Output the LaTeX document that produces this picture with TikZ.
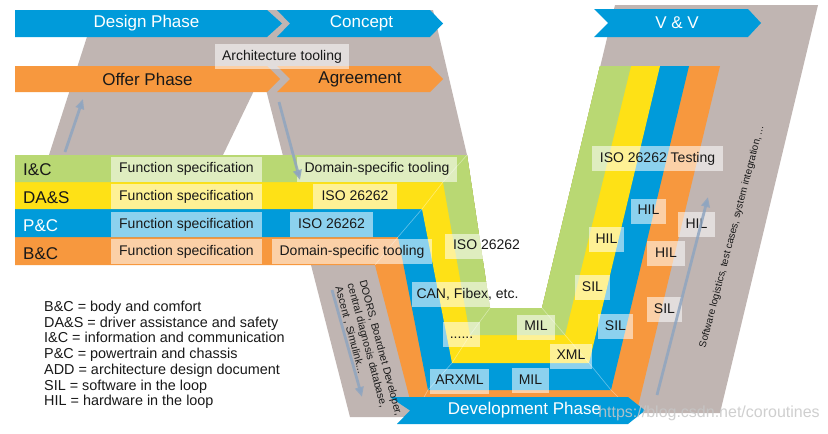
\documentclass[tikz,border=0pt]{standalone}
\usepackage{fontspec}
\setmainfont{Liberation Sans}
\usetikzlibrary{arrows.meta}
\definecolor{cblue}{RGB}{0,155,218}
\definecolor{corange}{RGB}{247,152,62}
\definecolor{cgreen}{RGB}{185,216,115}
\definecolor{cyellow}{RGB}{254,225,22}
\definecolor{cgray}{RGB}{192,181,178}
\definecolor{arrc}{RGB}{143,165,192}
\definecolor{txt}{RGB}{25,25,25}
\begin{document}
\begin{tikzpicture}[x=1pt,y=-1pt,
  lbl/.style={fill=white, fill opacity=0.55, text opacity=1, inner sep=0pt,
    minimum height=25pt, text=txt, text height=10.2pt, text depth=2.9pt,
    font=\fontsize{14}{16}\selectfont},
  bantext/.style={font=\fontsize{17}{20}\selectfont, inner sep=0pt},
  rowlbl/.style={anchor=base west, font=\fontsize{17}{20}\selectfont, inner sep=0pt, text=txt},
  legend/.style={anchor=base west, font=\fontsize{14.4}{16}\selectfont, inner sep=0pt, text=txt},
  fold/.style={draw=white, draw opacity=0.4, line width=0.6pt},
  flowarr/.style={draw=arrc, line width=2.8pt, draw opacity=0.85,
    -{Triangle[width=8.5pt,length=10pt]}}
]
\useasboundingbox (0,0) rectangle (828,434);
\fill[white] (0,0) rectangle (828,434);

% grey background shapes
\fill[cgray] (95.6,10) -- (433,10) -- (467,155) -- (490,308) -- (500,417) -- (350,417)
  -- (262,74) -- (223,155) -- (49,155) -- cycle;
\fill[cgray] (615,5) -- (818,5) -- (720,413) -- (517,413) -- cycle;

% flow arrow on the left arm (under the rows)
\coordinate (a1s) at (65,152);
\coordinate (a1e) at (83,99);
\draw[flowarr] (a1s) -- (a1e);

% colour bands
\fill[corange] (15,265) -- (375,265) -- (414,415) -- (636,415) -- (720,66) -- (600,66)
  -- (542,308) -- (490,308) -- (467,155) -- (15,155) -- cycle;
\fill[cblue] (15,237) -- (398,237) -- (428,390) -- (611,390) -- (689,66) -- (600,66)
  -- (542,308) -- (490,308) -- (467,155) -- (15,155) -- cycle;
\fill[cyellow] (15,209) -- (422,209) -- (452,363) -- (589,363) -- (660,66) -- (600,66)
  -- (542,308) -- (490,308) -- (467,155) -- (15,155) -- cycle;
\fill[cgreen] (15,182) -- (443,182) -- (470,335) -- (565,335) -- (631,66) -- (600,66)
  -- (542,308) -- (490,308) -- (467,155) -- (15,155) -- cycle;

\draw[fold] (467,155) -- (443,182) -- (422,209) -- (398,237) -- (375,265);
\draw[fold] (490,308) -- (470,335) -- (452,363) -- (428,390) -- (414,415);
\draw[fold] (542,308) -- (565,335) -- (589,363) -- (611,390) -- (636,415);

% banners
\fill[cblue] (15,10) -- (267,10) -- (282,23.5) -- (267,37) -- (15,37) -- cycle;
\fill[cblue] (277,10) -- (430,10) -- (443,23.5) -- (430,37) -- (277,37) -- (290,23.5) -- cycle;
\fill[corange] (15,66) -- (267,66) -- (280,79) -- (267,92) -- (15,92) -- cycle;
\fill[corange] (277,66) -- (430,66) -- (443,79) -- (430,92) -- (277,92) -- (290,79) -- cycle;
\fill[cblue] (594,9) -- (748,9) -- (761,23) -- (748,37) -- (594,37) -- (608,23) -- cycle;
\fill[cblue] (390,397) -- (628,397) -- (645,410.5) -- (628,424) -- (397,424) -- (410,410.5) -- cycle;

\node[bantext, text=white] (design) at (146.5,23.5) {Design Phase};
\node[bantext, text=white] (concept) at (361.5,23.5) {Concept};
\node[bantext, text=txt] (offer) at (147.5,79) {Offer Phase};
\node[bantext, text=txt] (agree) at (360,79) {Agreement};
\node[bantext, text=white] (vv) at (677,23) {V \& V};
\node[bantext, text=white] (dev) at (524.5,410.5) {Development Phase};

% row labels
\node[rowlbl] (ic) at (23,175) {I\&C};
\node[rowlbl] (das) at (23,203) {DA\&S};
\node[rowlbl, text=white] (pc) at (23,231) {P\&C};
\node[rowlbl] (bc) at (23,259) {B\&C};

% label boxes
\node[lbl, minimum width=134pt] (arch) at (282,56.5) {Architecture tooling};
\node[lbl, minimum width=151pt] (fs1) at (186.5,169) {Function specification};
\node[lbl, minimum width=151pt] (fs2) at (186.5,196.5) {Function specification};
\node[lbl, minimum width=151pt] (fs3) at (186.5,224.5) {Function specification};
\node[lbl, minimum width=151pt] (fs4) at (186.5,251.5) {Function specification};
\node[lbl, minimum width=160pt] (dst1) at (377,169) {Domain-specific tooling};
\node[lbl, minimum width=84pt] (iso1) at (355,196.5) {ISO 26262};
\node[lbl, minimum width=83pt] (iso2) at (331.5,224.5) {ISO 26262};
\node[lbl, minimum width=160pt] (dst2) at (352,251.5) {Domain-specific tooling};
\node[lbl, minimum width=83pt] (iso3) at (486.5,246) {ISO 26262};
\node[lbl, minimum width=111pt] (can) at (467.5,294.5) {CAN, Fibex, etc.};
\node[lbl, minimum width=37pt] (dots) at (461.5,334.5) {......};
\node[lbl, minimum width=38pt] (mil1) at (536,327) {MIL};
\node[lbl, minimum width=42pt] (xml) at (571,356) {XML};
\node[lbl, minimum width=59pt] (arxml) at (459.5,381) {ARXML};
\node[lbl, minimum width=37pt] (mil2) at (530.5,380.5) {MIL};
\node[lbl, minimum width=131pt] (isot) at (657.5,158.5) {ISO 26262 Testing};
\node[lbl, minimum width=35pt] (hil1) at (648.5,211) {HIL};
\node[lbl, minimum width=37pt] (hil2) at (696.5,224.5) {HIL};
\node[lbl, minimum width=35pt] (hil3) at (606.5,239.5) {HIL};
\node[lbl, minimum width=38pt] (hil4) at (666,253.5) {HIL};
\node[lbl, minimum width=35pt] (sil1) at (592.5,287.5) {SIL};
\node[lbl, minimum width=35pt] (sil2) at (664.5,309.5) {SIL};
\node[lbl, minimum width=35pt] (sil3) at (615.5,326.5) {SIL};

% flow arrows
\coordinate (a2s) at (279,102);
\coordinate (a2e) at (300,180);
\draw[flowarr] (a2s) -- (a2e);
\coordinate (a3s) at (332,290);
\coordinate (a3e) at (362,397);
\draw[flowarr] (a3s) -- (a3e);
\coordinate (a4s) at (657,395);
\coordinate (a4e) at (708,197);
\draw[flowarr] (a4s) -- (a4e);

% rotated texts
\node[rotate=75.3, font=\fontsize{10}{12}\selectfont, text=txt, inner sep=0pt] (swlog)
  at (732,237) {Software logistics, test cases, system integration, ...};
\node[rotate=-75, anchor=north west, align=left, inner sep=0pt, text=txt,
  font=\fontsize{10.5}{12.5}\selectfont] (doors) at (367,279)
  {DOORS, Boardnet Developer,\\central diagnosis database,\\Ascent , Simulink...};

% legend
\node[legend] (l1) at (44,311.5) {B\&C = body and comfort};
\node[legend] (l2) at (44,327.2) {DA\&S = driver assistance and safety};
\node[legend] (l3) at (44,342.9) {I\&C = information and communication};
\node[legend] (l4) at (44,358.6) {P\&C = powertrain and chassis};
\node[legend] (l5) at (44,374.3) {ADD = architecture design document};
\node[legend] (l6) at (44,390.0) {SIL = software in the loop};
\node[legend] (l7) at (44,405.7) {HIL = hardware in the loop};

% watermark
\node[font=\fontsize{16}{18}\selectfont, text=white!78!black, text opacity=0.85, inner sep=0pt]
  (wm) at (709,413) {https://blog.csdn.net/coroutines};
\end{tikzpicture}
\end{document}
